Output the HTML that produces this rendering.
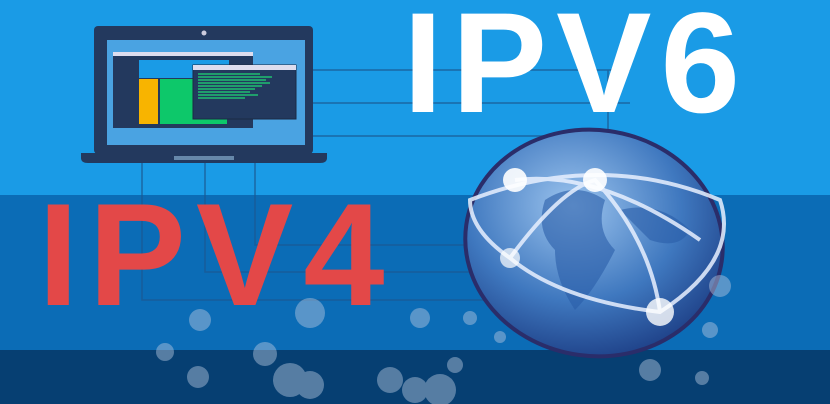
<!DOCTYPE html>
<html><head><meta charset="utf-8"><style>
body{margin:0;width:830px;height:404px;overflow:hidden;position:relative;background:#1a9be6;font-family:"Liberation Sans",sans-serif}
.a{position:absolute}
</style></head><body>
<div class="a" style="left:0;top:195px;width:830px;height:155px;background:#0b6cb6"></div>
<div class="a" style="left:0;top:350px;width:830px;height:54px;background:#063f72"></div>
<svg class="a" style="left:0;top:0" width="830" height="404">
<g stroke="#1a5a94" stroke-width="1.5" fill="none" opacity="0.8">
<path d="M313 70H630M313 103H630M313 136H630M142 163V300H630M205 163V272H630M255 163V245H630M608 70V195"/>
</g>
<rect x="94" y="26" width="219" height="128" rx="4" fill="#23395e"/>
<rect x="107" y="40" width="198" height="105" fill="#4aa3e2"/>
<circle cx="204" cy="33" r="2.5" fill="#ccd"/>
<path d="M81 153H327V158Q327 163 320 163H88Q81 163 81 158Z" fill="#23395e"/>
<rect x="174" y="156" width="60" height="4" fill="#6688aa"/>
<rect x="113" y="52" width="140" height="76" fill="#23395e"/>
<rect x="113" y="52" width="140" height="4" fill="#dde"/>
<rect x="139" y="60" width="90" height="18" fill="#1a9be6"/>
<rect x="139" y="79" width="19" height="45" fill="#f8b400"/>
<rect x="160" y="79" width="67" height="45" fill="#0dc86a"/>
<rect x="193" y="65" width="103" height="54" fill="#23395e" stroke="#1b2a44"/>
<rect x="193" y="65" width="103" height="5" fill="#dde"/>
<g stroke="#1fbf70" stroke-width="1.5">
<path d="M198 74H260M198 77H272M198 80H266M198 83H270M198 86H262M198 89H255M198 92H250M198 95H258M198 98H245"/>
</g>
<defs>
<radialGradient id="g" cx="0.4" cy="0.35" r="0.7"><stop offset="0" stop-color="#9cc4ee"/><stop offset="0.6" stop-color="#3f78bf"/><stop offset="1" stop-color="#1d3f86"/></radialGradient>
</defs>
<ellipse cx="594" cy="243" rx="129" ry="113" fill="url(#g)" stroke="#2a2d6a" stroke-width="4" transform="rotate(8 594 243)"/>
<path d="M545 200q30 -20 60 0q-10 30 10 50q-20 40 -40 60q-20 -30 -20 -60q-20 -20 -10 -50zM620 210q40 -10 70 20q-10 20 -40 10q-10 -10 -30 -30z" fill="#2a5da8" opacity="0.6"/>
<g stroke="#e8f0ff" stroke-width="4" fill="none" opacity="0.85">
<path d="M470 200Q600 150 720 200Q740 260 660 312Q560 300 510 258Q470 230 470 200Z"/>
<path d="M510 258Q560 190 595 180Q650 240 660 312"/>
<path d="M515 180Q600 170 700 240"/>
</g>
<g fill="#fff">
<circle cx="515" cy="180" r="12" opacity="0.9"/><circle cx="595" cy="180" r="12" opacity="0.9"/>
<circle cx="510" cy="258" r="10" opacity="0.7"/><circle cx="660" cy="312" r="14" opacity="0.8"/>
</g>
<g fill="#b8c8e0" opacity="0.45">
<circle cx="200" cy="320" r="11"/><circle cx="310" cy="313" r="15"/><circle cx="165" cy="352" r="9"/>
<circle cx="265" cy="354" r="12"/><circle cx="198" cy="377" r="11"/><circle cx="290" cy="380" r="17"/>
<circle cx="310" cy="385" r="14"/><circle cx="390" cy="380" r="13"/><circle cx="420" cy="318" r="10"/>
<circle cx="470" cy="318" r="7"/><circle cx="500" cy="337" r="6"/><circle cx="455" cy="365" r="8"/>
<circle cx="440" cy="390" r="16"/><circle cx="650" cy="370" r="11"/><circle cx="702" cy="378" r="7"/>
<circle cx="710" cy="330" r="8"/><circle cx="720" cy="286" r="11"/><circle cx="415" cy="390" r="13"/>
</g>
</svg>
<div class="a" style="left:403px;top:-8px;font-size:143px;font-weight:bold;color:#fff;letter-spacing:9px;line-height:1">IPV6</div>
<div class="a" style="left:38px;top:182px;font-size:146px;font-weight:bold;color:#e34848;letter-spacing:10px;line-height:1">IPV4</div>
</body></html>
